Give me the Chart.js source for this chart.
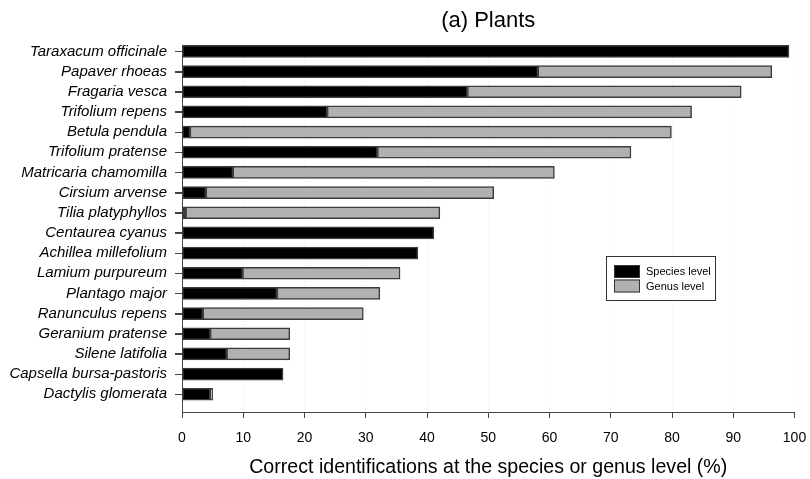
<!DOCTYPE html>
<html>
<head>
<meta charset="utf-8">
<script src="https://cdn.jsdelivr.net/npm/chart.js@4"></script>
<style>
  body { margin: 0; background: #fff; }
  #wrap { width: 810px; height: 479px; }
</style>
</head>
<body>
<div id="wrap"><canvas id="plantChart" width="810" height="479"></canvas></div>
<script>
const plants = ['Taraxacum officinale', 'Papaver rhoeas', 'Fragaria vesca', 'Trifolium repens',
  'Betula pendula', 'Trifolium pratense', 'Matricaria chamomilla', 'Cirsium arvense',
  'Tilia platyphyllos', 'Centaurea cyanus', 'Achillea millefolium', 'Lamium purpureum',
  'Plantago major', 'Ranunculus repens', 'Geranium pratense', 'Silene latifolia',
  'Capsella bursa-pastoris', 'Dactylis glomerata'];
const speciesLevel = [99.1, 58.1, 46.6, 23.7, 1.3, 31.9, 8.3, 3.9, 0.6, 41.1, 38.5, 9.9, 15.5, 3.4, 4.6, 7.3, 16.5, 4.6];
const genusLevel = [0, 38.2, 44.7, 59.5, 78.6, 41.4, 52.5, 47.0, 41.5, 0, 0, 25.7, 16.8, 26.2, 13.0, 10.3, 0, 0.4];
const xTicks = [0, 10, 20, 30, 40, 50, 60, 70, 80, 90, 100];

// title centred over the plot area, like the original figure
const titlePlugin = {
  id: 'plotTitle',
  afterDraw(chart) {
    const c = chart.ctx, a = chart.chartArea;
    c.save();
    c.font = '22px "Liberation Sans", Arial, sans-serif';
    c.fillStyle = '#000';
    c.textAlign = 'center';
    c.textBaseline = 'middle';
    c.fillText('(a) Plants', (a.left + a.right) / 2, 21);
    c.restore();
  }
};

// small outward tick marks on the category axis
const yTickMarks = {
  id: 'yTickMarks',
  afterDraw(chart) {
    const c = chart.ctx, y = chart.scales.y, left = chart.chartArea.left;
    c.save();
    c.strokeStyle = '#444';
    c.lineWidth = 1;
    c.beginPath();
    plants.forEach((p, i) => {
      const py = Math.round(y.getPixelForValue(i)) + 0.5;
      c.moveTo(left - 7, py);
      c.lineTo(left, py);
    });
    c.stroke();
    c.restore();
  }
};

// boxed legend sitting inside the plot
const boxLegend = {
  id: 'boxLegend',
  afterDraw(chart) {
    const c = chart.ctx;
    c.save();
    c.fillStyle = '#fff';
    c.fillRect(606.5, 256.5, 109, 44);
    c.strokeStyle = '#333';
    c.lineWidth = 1;
    c.strokeRect(606.5, 256.5, 109, 44);
    c.font = '11px "Liberation Sans", Arial, sans-serif';
    c.textBaseline = 'middle';
    chart.data.datasets.forEach((ds, i) => {
      const y = 265 + i * 14.5;
      c.fillStyle = ds.backgroundColor;
      c.fillRect(614, y, 26, 13);
      c.strokeStyle = '#333';
      c.strokeRect(614.5, y + 0.5, 25, 12);
      c.fillStyle = '#000';
      c.fillText(ds.label, 646, y + 7);
    });
    c.restore();
  }
};

const ctx = document.getElementById('plantChart').getContext('2d');
const myChart = new Chart(ctx, {
  type: 'bar',
  data: {
    datasets: [{
      label: 'Species level',
      data: speciesLevel.map((v, i) => ({ x: v, y: i })),
      backgroundColor: '#000000',
      borderColor: '#3c3c3c',
      borderWidth: 1.5,
      borderSkipped: false,
      barThickness: 12
    }, {
      label: 'Genus level',
      data: genusLevel.map((v, i) => ({ x: v, y: i })),
      backgroundColor: '#b1b1b1',
      borderColor: '#3c3c3c',
      borderWidth: 1.5,
      borderSkipped: false,
      barThickness: 12
    }]
  },
  options: {
    indexAxis: 'y',
    responsive: false,
    animation: false,
    layout: { padding: { top: 45, right: 15.5, left: 0, bottom: 0 } },
    plugins: {
      legend: { display: false },
      tooltip: { enabled: false },
      title: { display: false }
    },
    scales: {
      x: {
        type: 'linear',
        stacked: true,
        min: 0,
        max: 100,
        afterBuildTicks(scale) { scale.ticks = xTicks.map(v => ({ value: v })); },
        afterFit(scale) {
          scale.height = 67;
          scale.paddingLeft = 0;
          scale.paddingRight = 0;
        },
        ticks: {
          color: '#000',
          padding: 12,
          font: { size: 14, family: '"Liberation Sans", Arial, sans-serif' }
        },
        grid: {
          color: '#e6e6e6',
          tickColor: '#444',
          tickLength: 6,
          lineWidth: 1
        },
        border: { color: '#444', width: 1, dash: [1, 3] },
        title: {
          display: true,
          text: 'Correct identifications at the species or genus level (%)',
          color: '#000',
          padding: { top: 0, bottom: 0 },
          font: { size: 19.6, family: '"Liberation Sans", Arial, sans-serif' }
        }
      },
      y: {
        type: 'linear',
        stacked: true,
        reverse: true,
        offset: false,
        min: -0.32,
        max: 17.88,
        afterBuildTicks(scale) { scale.ticks = plants.map((p, i) => ({ value: i })); },
        afterFit(scale) { scale.width = 182; },
        ticks: {
          autoSkip: false,
          color: '#000',
          padding: 8,
          callback: (v) => plants[v],
          font: { size: 15, style: 'italic', family: '"Liberation Sans", Arial, sans-serif' }
        },
        grid: {
          offset: false,
          drawOnChartArea: false,
          color: '#444',
          tickLength: 7
        },
        border: { color: '#444', width: 1 }
      }
    }
  },
  plugins: [titlePlugin, yTickMarks, boxLegend]
});
</script>
</body>
</html>
